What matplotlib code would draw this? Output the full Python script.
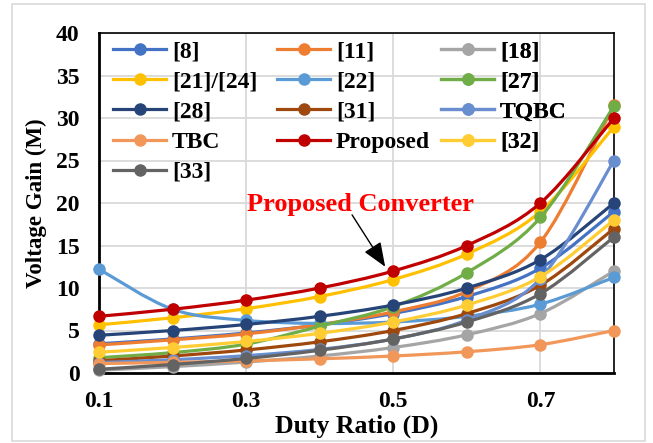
import numpy as np
import matplotlib
matplotlib.use("Agg")
import matplotlib.pyplot as plt
from matplotlib.path import Path
from matplotlib.patches import PathPatch, Rectangle
from matplotlib.lines import Line2D

plt.rcParams['font.family'] = ['Liberation Serif', 'DejaVu Serif']
plt.rcParams['font.weight'] = 'bold'

duty = [0.1, 0.2, 0.3, 0.4, 0.5, 0.6, 0.7, 0.8]

names = ['[8]', '[11]', '[18]', '[21]/[24]', '[22]', '[27]', '[28]', '[31]',
         'TQBC', 'TBC', 'Proposed', '[32]', '[33]']
colors = ['#4472C4', '#ED7D31', '#A5A5A5', '#FFC000', '#5B9BD5', '#70AD47',
          '#264478', '#9E480E', '#698ED0', '#F1975A', '#C00000', '#FFCD33',
          '#636363']

g8 = [3.44, 4.0, 4.71, 5.67, 7.0, 9.0, 12.33, 19.0]
g11 = [3.3, 3.9, 4.6, 5.7, 7.2, 9.6, 15.4, 31.5]
g18 = [0.33, 0.75, 1.29, 2.0, 3.0, 4.5, 7.0, 12.0]
g21_24 = [5.67, 6.5, 7.57, 9.0, 11.0, 14.0, 19.0, 29.0]
g22 = [12.22, 7.5, 6.19, 5.83, 6.0, 6.67, 8.1, 11.25]
g27 = [1.8, 2.4, 3.4, 5.5, 7.8, 11.8, 18.3, 31.4]
g28 = [4.44, 5.0, 5.71, 6.67, 8.0, 10.0, 13.33, 20.0]
g31 = [1.44, 2.0, 2.71, 3.67, 5.0, 7.0, 10.33, 17.0]
tqbc = [1.23, 1.56, 2.04, 2.78, 4.0, 6.25, 11.11, 25.0]
tbc = [1.11, 1.25, 1.43, 1.67, 2.0, 2.5, 3.33, 5.0]
proposed = [6.67, 7.5, 8.57, 10.0, 12.0, 15.0, 20.0, 30.0]
g32 = [2.44, 3.0, 3.71, 4.67, 6.0, 8.0, 11.33, 18.0]
g33 = [0.44, 1.0, 1.71, 2.67, 4.0, 6.0, 9.33, 16.0]

series = [g8, g11, g18, g21_24, g22, g27, g28, g31, tqbc, tbc, proposed, g32, g33]


def smooth_path(x, y):
    # Catmull-Rom segments written as cubic Bezier pieces
    pts = np.column_stack([x, y])
    verts = [pts[0]]
    codes = [Path.MOVETO]
    n = len(pts)
    for i in range(n - 1):
        p0 = pts[max(i - 1, 0)]
        p1 = pts[i]
        p2 = pts[i + 1]
        p3 = pts[min(i + 2, n - 1)]
        c1 = p1 + (p2 - p0) / 6.0
        c2 = p2 - (p3 - p1) / 6.0
        verts += [c1, c2, p2]
        codes += [Path.CURVE4] * 3
    return Path(verts, codes)


fig = plt.figure(figsize=(6.53, 4.43), dpi=100)
ax = fig.add_axes([99 / 653, 1 - 373 / 443, 515 / 653, 340 / 443])

fig.patches.append(Rectangle((12 / 653, 2 / 443), 633 / 653, 437 / 443,
                             transform=fig.transFigure, fill=False,
                             edgecolor='#D9D9D9', lw=1.2))

for i, (vals, c) in enumerate(zip(series, colors)):
    z = 3 + i * 0.1
    ax.add_patch(PathPatch(smooth_path(duty, vals), facecolor='none',
                           edgecolor=c, lw=2.3, zorder=z, clip_on=False,
                           capstyle='round'))
    ax.plot(duty, vals, 'o', color=c, ms=8, zorder=z + 0.05, clip_on=False)

ax.set_xlim(0.1, 0.8)
ax.set_ylim(0, 40)
ax.set_xticks([0.1, 0.3, 0.5, 0.7])
ax.set_xticklabels(['0.1', '0.3', '0.5', '0.7'])
ax.set_yticks(range(0, 41, 5))
ax.tick_params(length=0, labelsize=17)
ax.tick_params(axis='x', pad=13)
ax.tick_params(axis='y', pad=14)
for lab in ax.get_xticklabels() + ax.get_yticklabels():
    lab.set_fontweight('bold')
ax.grid(True, color='#D9D9D9', lw=1.3, zorder=0)
ax.set_axisbelow(True)

ax.spines['left'].set_linewidth(2.0)
ax.spines['bottom'].set_linewidth(2.0)
ax.spines['top'].set_linewidth(1.2)
ax.spines['right'].set_linewidth(1.2)

ax.set_xlabel('Duty Ratio (D)', fontsize=18.5, fontweight='bold', labelpad=2)
ax.set_ylabel('Voltage Gain (M)', fontsize=16.5, fontweight='bold', labelpad=6)

# legend: three columns of equal width, entries read row by row
col_x = [113, 277, 441]
for j, x0 in enumerate(col_x):
    idx = list(range(j, len(names), 3))
    hs = [Line2D([], [], color=colors[k], lw=2.3, marker='o', ms=8) for k in idx]
    leg = ax.legend(hs, [names[k] for k in idx], loc='upper left',
                    bbox_to_anchor=((x0 - 99) / 515, 0.976), frameon=False,
                    handlelength=2.25, handletextpad=0.25, labelspacing=0.36,
                    borderpad=0, borderaxespad=0,
                    prop={'family': ['Liberation Serif'], 'weight': 'bold',
                          'size': 17})
    ax.add_artist(leg)

ax.text(0.455, 19.8, 'Proposed Converter', ha='center', va='center',
        color='red', fontsize=19, fontweight='bold', zorder=10)
ax.annotate('', xy=(0.489, 12.5), xytext=(0.444, 18.6), zorder=10,
            arrowprops=dict(arrowstyle='-|>,head_length=1.0,head_width=0.4',
                            mutation_scale=15, color='black', lw=1.0,
                            shrinkA=0, shrinkB=0))

fig.savefig('out.png', dpi=100)
